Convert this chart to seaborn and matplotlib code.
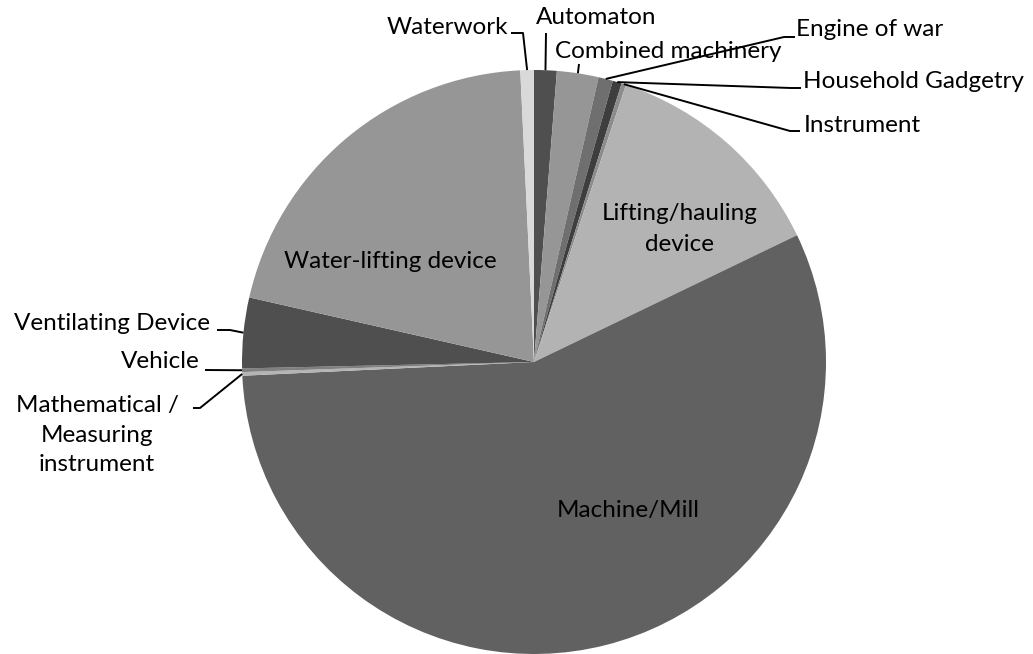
import numpy as np
import matplotlib
matplotlib.use("Agg")
import matplotlib.pyplot as plt
import seaborn as sns

# Share of devices by type (percent), listed clockwise from twelve o'clock
categories = ["Automaton", "Combined machinery", "Engine of war", "Household Gadgetry",
              "Instrument", "Lifting/hauling device", "Machine/Mill",
              "Mathematical / Measuring instrument", "Vehicle", "Ventilating Device",
              "Water-lifting device", "Waterwork"]
values = [1.25, 2.3, 0.8, 0.5, 0.25, 12.75, 56.4, 0.2, 0.2, 3.9, 20.7, 0.75]
colors = ["#4f4f4f", "#969696", "#6f6f6f", "#3e3e3e", "#8c8c8c", "#b3b3b3",
          "#616161", "#b4b4b4", "#808080", "#4f4f4f", "#969696", "#d9d9d9"]

sns.set_theme(style="white")
plt.rcParams["font.family"] = ["Lato", "DejaVu Sans"]

W, H = 1033, 654
CX, CY, R = 534, 362, 292
fig = plt.figure(figsize=(W / 100, H / 100), dpi=100)
ax = fig.add_axes([(CX - R) / W, (H - CY - R) / H, 2 * R / W, 2 * R / H])

wedges, _ = ax.pie(values, colors=colors, startangle=90, counterclock=False,
                   radius=1.0, wedgeprops=dict(linewidth=0))
ax.set_xlim(-1, 1)
ax.set_ylim(-1, 1)
ax.set_aspect("equal")
ax.axis("off")


def px(x, y):
    """Pixel position -> data coordinates of the pie axes."""
    return (x - CX) / R, (CY - y) / R


def anchor(i):
    w = wedges[i]
    a = np.deg2rad((w.theta1 + w.theta2) / 2)
    return np.cos(a), np.sin(a)


FS = 17.5
# Labels drawn inside the larger slices
inside = {
    "Lifting/hauling device": ((680, 229), "Lifting/hauling\ndevice"),
    "Machine/Mill": ((628, 510), "Machine/Mill"),
    "Water-lifting device": ((390, 261), "Water-lifting device"),
}
for name, ((x, y), txt) in inside.items():
    tx, ty = px(x, y)
    ax.text(tx, ty, txt, ha="center", va="center", fontsize=FS, color="black",
            multialignment="center", linespacing=1.6)

# Outside labels with leader lines: (elbow points in pixels, text pos, alignment)
outside = {
    "Waterwork": ([(523, 33), (511, 33)], (508, 28), "right"),
    "Automaton": ([(546, 33)], (596, 18), "center"),
    "Combined machinery": ([(579, 64)], (668, 51), "center"),
    "Engine of war": ([(784, 37), (795, 37)], (796, 29), "left"),
    "Household Gadgetry": ([(791, 88), (801, 88)], (803, 81), "left"),
    "Instrument": ([(790, 131), (800, 131)], (804, 125), "left"),
    "Ventilating Device": ([(230, 330), (217, 330)], (210, 323), "right"),
    "Vehicle": ([(205, 370)], (200, 362), "right"),
    "Mathematical / Measuring instrument": ([(200, 408), (193, 408)], (97, 435), "center"),
}
for name, (elbows, (x, y), ha) in outside.items():
    i = categories.index(name)
    ax0, ay0 = anchor(i)
    pts = [(ax0, ay0)] + [px(ex, ey) for ex, ey in elbows]
    xs, ys = zip(*pts)
    ax.plot(xs, ys, color="black", linewidth=1.4, clip_on=False,
            solid_capstyle="butt")
    tx, ty = px(x, y)
    txt = name.replace(" / ", " /\n").replace("Measuring instrument", "Measuring\ninstrument")
    ax.text(tx, ty, txt, ha=ha, va="center", fontsize=FS, color="black",
            multialignment="center", linespacing=1.5, clip_on=False)

fig.savefig("out.png", dpi=100, facecolor="white")
